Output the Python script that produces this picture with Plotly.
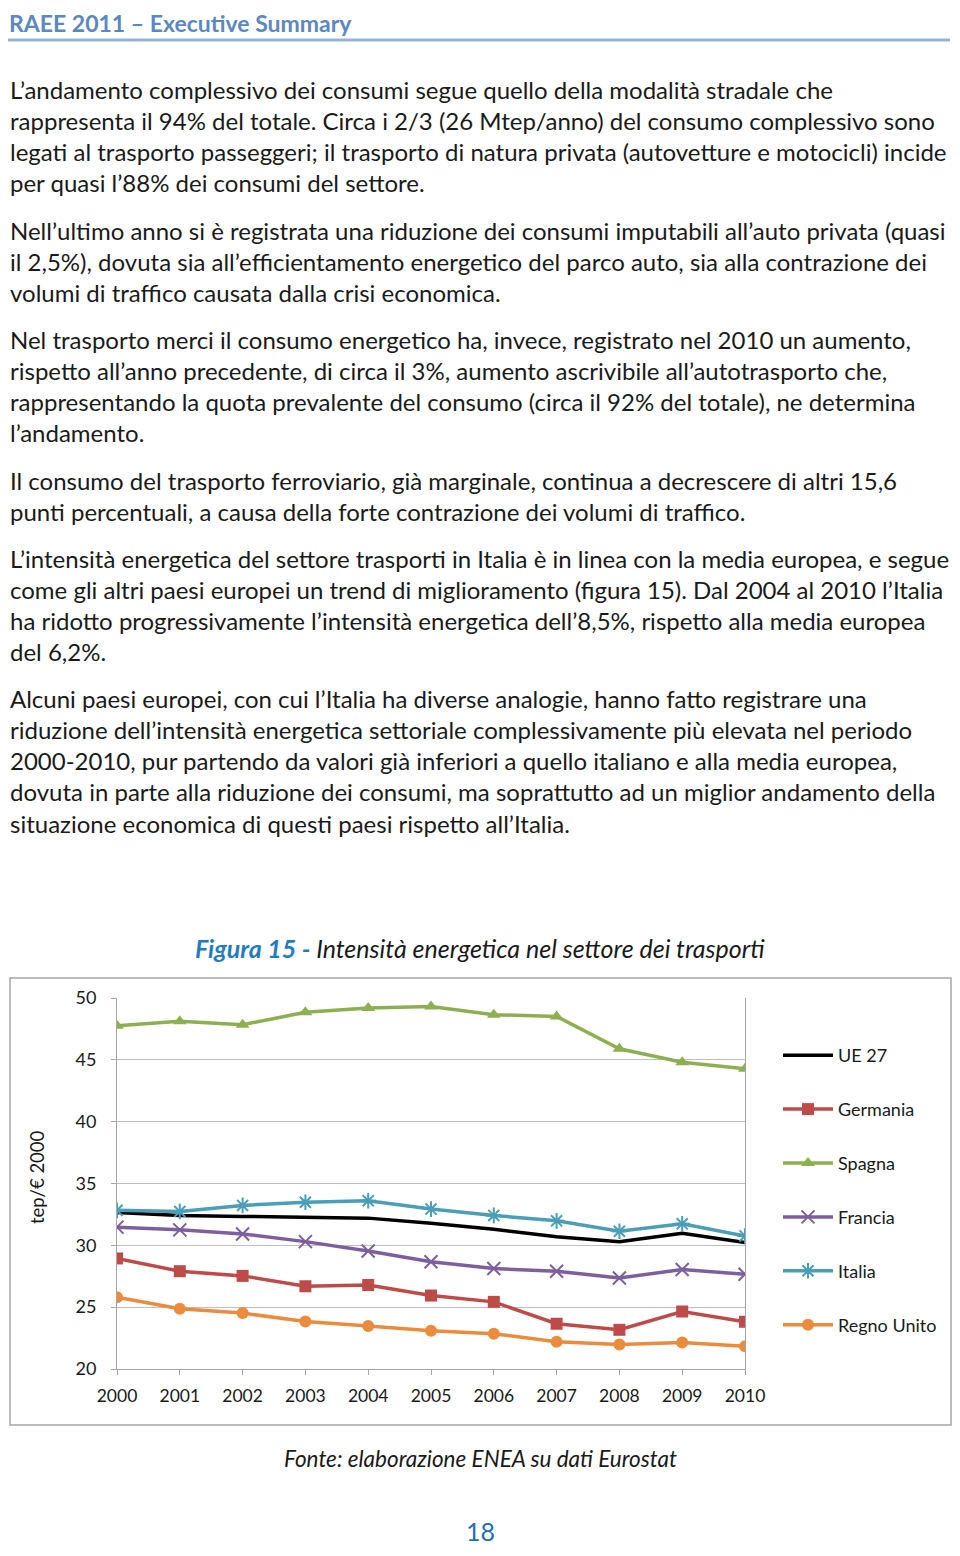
import plotly.graph_objects as go

# The page body has an 8px margin on every side; the figure is sized to fit
# inside it (no scrollbars) and positions are given in page pixels.
PAGE_W, PAGE_H = 960, 1556
OFF = 8
W, H = PAGE_W - 2 * OFF, PAGE_H - 2 * OFF

years = [2000, 2001, 2002, 2003, 2004, 2005, 2006, 2007, 2008, 2009, 2010]
ue27 = [32.66, 32.42, 32.34, 32.28, 32.20, 31.79, 31.30, 30.70, 30.30, 30.98, 30.22]
germania = [28.94, 27.91, 27.53, 26.69, 26.79, 25.94, 25.43, 23.66, 23.17, 24.65, 23.82]
spagna = [47.76, 48.11, 47.84, 48.84, 49.19, 49.32, 48.65, 48.51, 45.89, 44.81, 44.27]
francia = [31.47, 31.25, 30.92, 30.30, 29.54, 28.67, 28.12, 27.91, 27.36, 28.04, 27.66]
italia = [32.83, 32.74, 33.23, 33.48, 33.61, 32.93, 32.42, 31.98, 31.14, 31.74, 30.76]
regno_unito = [25.81, 24.87, 24.52, 23.84, 23.47, 23.09, 22.85, 22.20, 21.99, 22.15, 21.83]

series_names = ["UE 27", "Germania", "Spagna", "Francia", "Italia", "Regno Unito"]
y_ticks = [20, 25, 30, 35, 40, 45, 50]

header_title = "RAEE 2011 – Executive Summary"
paragraphs = [
    ["L’andamento complessivo dei consumi segue quello della modalità stradale che",
     "rappresenta il 94% del totale. Circa i 2/3 (26 Mtep/anno) del consumo complessivo sono",
     "legati al trasporto passeggeri; il trasporto di natura privata (autovetture e motocicli) incide",
     "per quasi l’88% dei consumi del settore."],
    ["Nell’ultimo anno si è registrata una riduzione dei consumi imputabili all’auto privata (quasi",
     "il 2,5%), dovuta sia all’efficientamento energetico del parco auto, sia alla contrazione dei",
     "volumi di traffico causata dalla crisi economica."],
    ["Nel trasporto merci il consumo energetico ha, invece, registrato nel 2010 un aumento,",
     "rispetto all’anno precedente, di circa il 3%, aumento ascrivibile all’autotrasporto che,",
     "rappresentando la quota prevalente del consumo (circa il 92% del totale), ne determina",
     "l’andamento."],
    ["Il consumo del trasporto ferroviario, già marginale, continua a decrescere di altri 15,6",
     "punti percentuali, a causa della forte contrazione dei volumi di traffico."],
    ["L’intensità energetica del settore trasporti in Italia è in linea con la media europea, e segue",
     "come gli altri paesi europei un trend di miglioramento (figura 15). Dal 2004 al 2010 l’Italia",
     "ha ridotto progressivamente l’intensità energetica dell’8,5%, rispetto alla media europea",
     "del 6,2%."],
    ["Alcuni paesi europei, con cui l’Italia ha diverse analogie, hanno fatto registrare una",
     "riduzione dell’intensità energetica settoriale complessivamente più elevata nel periodo",
     "2000-2010, pur partendo da valori già inferiori a quello italiano e alla media europea,",
     "dovuta in parte alla riduzione dei consumi, ma soprattutto ad un miglior andamento della",
     "situazione economica di questi paesi rispetto all’Italia."],
]
para_top = [89, 230, 339, 480, 558, 698]
line_step = 31.3

fig_caption_bold = "Figura 15 -"
fig_caption_rest = " Intensità energetica nel settore dei trasporti"
y_title = "tep/€ 2000"
source_text = "Fonte: elaborazione ENEA su dati Eurostat"
page_number = "18"

FONT = "Lato"
TXT = "#1a1a1a"


def px(x):
    return (x - OFF) / W


def py(y):
    return 1 - (y - OFF) / H


fig = go.Figure()

styles = [
    dict(color="#000000", symbol=None),
    dict(color="#BE4B48", symbol="square"),
    dict(color="#8CB04F", symbol="triangle-up"),
    dict(color="#7D5FA0", symbol="x-thin"),
    dict(color="#4A9EB8", symbol="asterisk"),
    dict(color="#EB8B3D", symbol="circle"),
]
data = [ue27, germania, spagna, francia, italia, regno_unito]

for name, vals, st in zip(series_names, data, styles):
    if st["symbol"] is None:
        mode = "lines"
        marker = None
    else:
        mode = "lines+markers"
        thin = st["symbol"] in ("x-thin", "asterisk")
        marker = dict(symbol=st["symbol"], size=12 if not thin else 13,
                      color=st["color"],
                      line=dict(color=st["color"], width=2 if thin else 0))
    fig.add_trace(go.Scatter(
        x=years, y=vals, name=name, mode=mode, legendgroup=name,
        line=dict(color=st["color"], width=3.5),
        marker=marker,
    ))

fig.update_layout(
    width=W, height=H,
    margin=dict(l=0, r=0, t=0, b=0, pad=0, autoexpand=False),
    paper_bgcolor="white", plot_bgcolor="white",
    font=dict(family=FONT, color=TXT),
    showlegend=True,
    legend=dict(
        x=px(778), y=py(1037), xanchor="left", yanchor="top",
        font=dict(size=18, family=FONT, color=TXT),
        itemwidth=50, tracegroupgap=27.5,
        bgcolor="rgba(0,0,0,0)",
    ),
    xaxis=dict(
        domain=[px(117), px(745)], range=[2000, 2010],
        tickvals=years, ticktext=[str(y) for y in years],
        showgrid=False, zeroline=False, automargin=False,
        showline=True, linecolor="#A6A6A6", linewidth=1,
        ticks="outside", ticklen=5, tickcolor="#A6A6A6",
        tickfont=dict(size=17.5, family=FONT, color=TXT),
        ticklabelstandoff=6,
    ),
    yaxis=dict(
        domain=[py(1369), py(998)], range=[20, 50],
        tickvals=y_ticks,
        showgrid=True, gridcolor="#BFBFBF", gridwidth=1,
        zeroline=False, automargin=False,
        showline=True, linecolor="#A6A6A6", linewidth=1, mirror=True,
        ticks="outside", ticklen=5, tickcolor="#A6A6A6",
        tickfont=dict(size=18, family=FONT, color=TXT),
        ticklabelstandoff=11,
    ),
)

annotations = []
annotations.append(dict(
    x=px(8), y=py(23), xref="paper", yref="paper", xanchor="left", yanchor="middle",
    text="<b>" + header_title + "</b>", showarrow=False, borderpad=0,
    font=dict(size=23, family=FONT, color="#5B87C2"),
))
for top, lines in zip(para_top, paragraphs):
    for i, line in enumerate(lines):
        annotations.append(dict(
            x=px(8), y=py(top + i * line_step), xref="paper", yref="paper",
            xanchor="left", yanchor="middle", text=line, showarrow=False,
            font=dict(size=24, family=FONT, color=TXT),
        ))
annotations.append(dict(
    x=px(480), y=py(948), xref="paper", yref="paper", xanchor="center", yanchor="middle",
    text="<b><i><span style='color:#1F7CC4'>" + fig_caption_bold + "</span></i></b><i>"
         + fig_caption_rest + "</i>",
    showarrow=False, font=dict(size=25, family=FONT, color=TXT),
))
annotations.append(dict(
    x=px(37), y=py(1177), xref="paper", yref="paper", xanchor="center", yanchor="middle",
    text=y_title, textangle=-90, showarrow=False,
    font=dict(size=18.5, family=FONT, color=TXT),
))
annotations.append(dict(
    x=px(480), y=py(1458), xref="paper", yref="paper", xanchor="center", yanchor="middle",
    text="<i>" + source_text + "</i>", showarrow=False,
    font=dict(size=22.5, family=FONT, color=TXT),
))
annotations.append(dict(
    x=px(480), y=py(1531), xref="paper", yref="paper", xanchor="center", yanchor="middle",
    text=page_number, showarrow=False, borderpad=0,
    font=dict(size=25, family=FONT, color="#1F6FB5"),
))
fig.update_layout(annotations=annotations)

fig.update_layout(shapes=[
    dict(type="line", xref="paper", yref="paper", x0=px(8), x1=px(950), y0=py(40), y1=py(40),
         line=dict(color="#95B3D7", width=3)),
    dict(type="rect", xref="paper", yref="paper", x0=px(10), x1=px(951), y0=py(978), y1=py(1425),
         line=dict(color="#A6A6A6", width=1.5)),
])

fig.write_html("out.html")
